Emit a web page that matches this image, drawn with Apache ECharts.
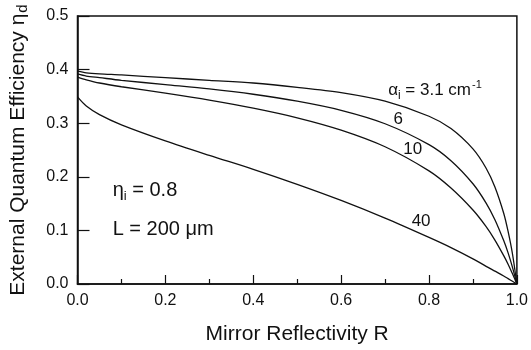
<!DOCTYPE html>
<html>
<head>
<meta charset="utf-8">
<script src="https://cdn.jsdelivr.net/npm/echarts@6/dist/echarts.min.js"></script>
<style>
  html, body { margin: 0; padding: 0; background: #fff; }
  #chart { width: 531px; height: 350px; }
</style>
</head>
<body>
<div id="chart"></div>
<script>
// Mirror reflectivity R (x values shared by every curve)
const reflectivity = [0, 0.02, 0.05, 0.1, 0.2, 0.3, 0.4, 0.5, 0.6, 0.7, 0.8, 0.85, 0.9, 0.93, 0.95, 0.97, 0.98, 0.99, 1.0];

// External quantum efficiency for each internal loss alpha_i
const eta_a3_1 = [0.397, 0.394, 0.392, 0.390, 0.385, 0.380, 0.375, 0.367, 0.357, 0.341, 0.313, 0.290, 0.252, 0.216, 0.181, 0.132, 0.098, 0.056, 0];
const eta_a6   = [0.392, 0.388, 0.385, 0.380, 0.372, 0.364, 0.354, 0.341, 0.324, 0.299, 0.260, 0.230, 0.187, 0.151, 0.120, 0.081, 0.058, 0.031, 0];
const eta_a10  = [0.386, 0.381, 0.375, 0.368, 0.356, 0.343, 0.328, 0.310, 0.287, 0.256, 0.211, 0.179, 0.138, 0.107, 0.082, 0.053, 0.037, 0.019, 0];
const eta_a40  = [0.349, 0.332, 0.316, 0.297, 0.267, 0.240, 0.214, 0.186, 0.156, 0.123, 0.087, 0.068, 0.047, 0.033, 0.024, 0.015, 0.010, 0.005, 0];

const curveNames = ['3.1', '6', '10', '40'];
const curveValues = [eta_a3_1, eta_a6, eta_a10, eta_a40];

const xTicks = [0, 0.2, 0.4, 0.6, 0.8, 1.0];
const yTicks = [0, 0.1, 0.2, 0.3, 0.4, 0.5];

const FONT = '"Liberation Sans", Arial, Helvetica, sans-serif';
const INK = '#111';
const chart = echarts.init(document.getElementById('chart'), null, { renderer: 'canvas' });

const series = curveValues.map((vals, i) => ({
  name: curveNames[i],
  type: 'line',
  data: reflectivity.map((r, k) => [r, vals[k]]),
  showSymbol: false,
  smooth: 0.3,
  lineStyle: { color: INK, width: 1.3 },
  silent: true,
  animation: false
}));

chart.setOption({
  animation: false,
  backgroundColor: '#fff',
  grid: {
    left: 76, right: 11, top: 16, bottom: 59,
    show: true, borderColor: INK, borderWidth: 1.5, backgroundColor: 'transparent'
  },
  xAxis: {
    type: 'value',
    min: xTicks[0], max: xTicks[xTicks.length - 1], interval: 0.2,
    name: 'Mirror Reflectivity R',
    nameLocation: 'middle', nameGap: 40,
    nameTextStyle: { fontFamily: FONT, fontSize: 21, color: INK },
    axisLine: { show: true, onZero: false, lineStyle: { color: INK, width: 1.5 } },
    axisTick: { show: true, inside: true, length: 9, lineStyle: { color: INK, width: 1.2 } },
    minorTick: { show: true, splitNumber: 2, length: 5, lineStyle: { color: INK, width: 1.2 } },
    axisLabel: { fontFamily: FONT, fontSize: 16, color: INK, margin: 9, formatter: v => v.toFixed(1) },
    splitLine: { show: false }
  },
  yAxis: {
    type: 'value',
    min: yTicks[0], max: yTicks[yTicks.length - 1], interval: 0.1,
    name: '{a|External Quantum Efficiency η}{s|d}',
    nameLocation: 'middle', nameGap: 47, nameRotate: 90,
    nameTextStyle: {
      fontFamily: FONT, fontSize: 21, color: INK,
      rich: {
        a: { fontFamily: FONT, fontSize: 21, color: INK },
        s: { fontFamily: FONT, fontSize: 15, color: INK, verticalAlign: 'bottom', padding: [9, 0, 0, 1] }
      }
    },
    axisLine: { show: true, lineStyle: { color: INK, width: 1.5 } },
    axisTick: { show: true, inside: true, length: 12, lineStyle: { color: INK, width: 1.2 } },
    axisLabel: { fontFamily: FONT, fontSize: 16, color: INK, margin: 9, formatter: v => v.toFixed(1) },
    splitLine: { show: false }
  },
  series: series
});

// Text annotations placed in data coordinates
function at(r, eta) { return chart.convertToPixel({ gridIndex: 0 }, [r, eta]); }

const richStyles = {
  b: { fontFamily: FONT, fontSize: 17, color: INK },
  sub: { fontFamily: FONT, fontSize: 12, color: INK, padding: [11, 0, 0, 0] },
  sup: { fontFamily: FONT, fontSize: 11, color: INK, padding: [0, 0, 9, 1] },
  big: { fontFamily: FONT, fontSize: 20, color: INK },
  bigsub: { fontFamily: FONT, fontSize: 13, color: INK, padding: [13, 0, 0, 0] }
};

function label(pos, text, align) {
  return {
    type: 'text', x: pos[0], y: pos[1], silent: true,
    style: { text: text, rich: richStyles, align: align || 'left', verticalAlign: 'middle', fill: INK }
  };
}

chart.setOption({
  graphic: [
    label(at(0.707, 0.362), '{b|α}{sub|i}{b| = 3.1 cm}{sup|-1}'),
    label(at(0.73, 0.308), '{b|6}', 'center'),
    label(at(0.763, 0.251), '{b|10}', 'center'),
    label(at(0.782, 0.117), '{b|40}', 'center'),
    label(at(0.08, 0.175), '{big|η}{bigsub|i}{big| = 0.8}'),
    label(at(0.08, 0.102), '{big|L = 200 μm}')
  ]
});
</script>
</body>
</html>
